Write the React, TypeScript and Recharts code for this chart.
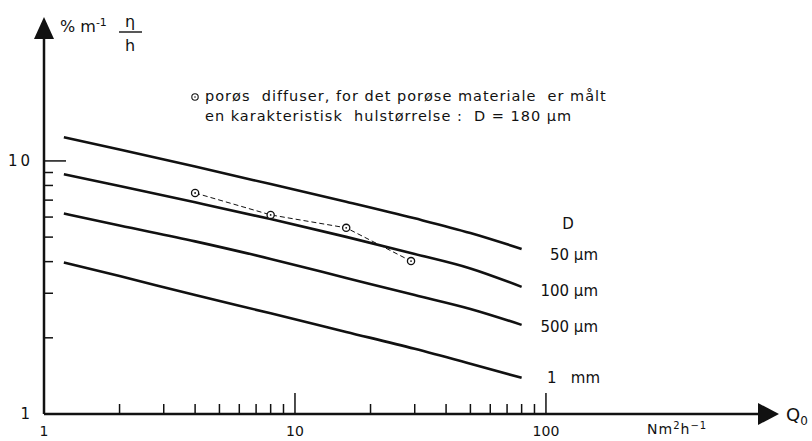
import { LineChart, Line, XAxis, YAxis } from "recharts";

// Q0 (Nm2/h) sample points shared by the four D curves
const flowPoints = [1.2, 2, 4, 8, 16, 30, 50, 80];
const curve50um = [12.4, 11.1, 9.5, 8.1, 6.9, 5.93, 5.19, 4.49];
const curve100um = [8.85, 7.96, 6.86, 5.89, 5.01, 4.29, 3.76, 3.18];
const curve500um = [6.2, 5.56, 4.81, 4.1, 3.45, 2.95, 2.6, 2.25];
const curve1mm = [3.97, 3.51, 2.95, 2.5, 2.11, 1.81, 1.58, 1.39];
const curveLabels = ["50 µm", "100 µm", "500 µm", "1   mm"];

// porous diffuser measurements
const measuredFlow = [4, 8, 16, 29];
const measuredEta = [7.47, 6.12, 5.44, 4.02];

const xTicks = [1, 2, 3, 4, 5, 6, 7, 8, 9, 10, 20, 30, 40, 50, 60, 70, 80, 90, 100];
const xLabels = [1, 10, 100];
const yTicks = [1, 2, 3, 4, 5, 6, 7, 8, 9, 10];
const yLabels = [1, 10];

const ink = "#111";
const font = "'DejaVu Sans', sans-serif";

const curveData = flowPoints.map((q, i) => ({
  q,
  d50: curve50um[i],
  d100: curve100um[i],
  d500: curve500um[i],
  d1mm: curve1mm[i],
}));

const measuredData = measuredFlow.map((q, i) => ({ q, eta: measuredEta[i] }));

const XTick = (props: any) => {
  const { x, y, payload } = props;
  const v = payload.value;
  const major = v === 10 || v === 100;
  return (
    <g>
      {v !== 1 && (
        <line x1={x} x2={x} y1={y} y2={y - (major ? 21 : 10)} stroke={ink} strokeWidth={1.5} />
      )}
      {xLabels.includes(v) && (
        <text x={x} y={y + 22} textAnchor="middle" fontSize={14} fill={ink} fontFamily={font}>
          {v}
        </text>
      )}
    </g>
  );
};

const YTick = (props: any) => {
  const { x, y, payload } = props;
  const v = payload.value;
  return (
    <g>
      {v !== 1 && (
        <line x1={x} x2={x + (v === 10 ? 22 : 9)} y1={y} y2={y} stroke={ink} strokeWidth={1.5} />
      )}
      {yLabels.includes(v) && (
        <text x={x - 11} y={y + 5} textAnchor="end" fontSize={15} fill={ink} fontFamily={font} letterSpacing={3}>
          {v}
        </text>
      )}
    </g>
  );
};

const MeasuredDot = (props: any) => {
  const { cx, cy, index } = props;
  return (
    <g key={index}>
      <circle cx={cx} cy={cy} r={3.6} fill="#fff" stroke={ink} strokeWidth={1.3} />
      <circle cx={cx} cy={cy} r={0.9} fill={ink} />
    </g>
  );
};

export default function App() {
  const curveKeys = ["d50", "d100", "d500", "d1mm"];
  const labelY = [255, 291, 327, 378];
  const txt = { fill: ink, fontFamily: font, style: { whiteSpace: "pre" as const } };
  return (
    <div style={{ position: "absolute", left: 0, top: 0, width: 812, height: 441, background: "#fff" }}>
      <LineChart
        width={812}
        height={441}
        data={curveData}
        margin={{ top: 38, right: 52, bottom: 26, left: 43 }}
      >
        <XAxis
          dataKey="q"
          type="number"
          scale="log"
          domain={[1, 712.6]}
          allowDataOverflow
          ticks={xTicks}
          interval={0}
          height={1}
          tickSize={0}
          tickMargin={0}
          tick={<XTick />}
          axisLine={{ stroke: ink, strokeWidth: 2.5 }}
          tickLine={false}
        />
        <YAxis
          type="number"
          scale="log"
          domain={[1, 30.6]}
          allowDataOverflow
          ticks={yTicks}
          interval={0}
          width={1}
          tickSize={0}
          tickMargin={0}
          tick={<YTick />}
          axisLine={{ stroke: ink, strokeWidth: 2.5 }}
          tickLine={false}
        />
        {curveKeys.map((k) => (
          <Line
            key={k}
            dataKey={k}
            type="monotone"
            stroke={ink}
            strokeWidth={2.6}
            dot={false}
            activeDot={false}
            isAnimationActive={false}
          />
        ))}
        <Line
          data={measuredData}
          dataKey="eta"
          type="linear"
          stroke={ink}
          strokeWidth={1}
          strokeDasharray="5 3"
          dot={<MeasuredDot />}
          activeDot={false}
          isAnimationActive={false}
        />
        {/* arrowheads */}
        <polygon points="44,17 34,39 54,39" fill={ink} />
        <polygon points="779,414 758,403 758,425" fill={ink} />
        {/* y axis title */}
        <text x={60} y={32} fontSize={16} {...txt}>
          % m<tspan dy={-6} fontSize={11}>-1</tspan>
        </text>
        <text x={130} y={27} fontSize={16} {...txt} textAnchor="middle">η</text>
        <line x1={119} x2={142} y1={32} y2={32} stroke={ink} strokeWidth={1.4} />
        <text x={130} y={51} fontSize={16} {...txt} textAnchor="middle">h</text>
        {/* x axis title */}
        <text x={786} y={421} fontSize={18} {...txt}>
          Q<tspan dy={4} fontSize={12}>0</tspan>
        </text>
        <text x={647} y={434} fontSize={14} {...txt} letterSpacing={1}>
          Nm<tspan dy={-5} fontSize={10}>2</tspan>
          <tspan dy={5}>h</tspan>
          <tspan dy={-5} fontSize={10}>−1</tspan>
        </text>
        {/* annotation */}
        <circle cx={195} cy={97} r={3.2} fill="none" stroke={ink} strokeWidth={1.1} />
        <circle cx={195} cy={97} r={0.8} fill={ink} />
        <text x={205} y={101} fontSize={14.5} letterSpacing={1} {...txt}>
          porøs  diffuser, for det porøse materiale  er målt
        </text>
        <text x={205} y={121} fontSize={14.5} letterSpacing={1} {...txt}>
          en karakteristisk  hulstørrelse :  D = 180 µm
        </text>
        {/* curve labels */}
        <text x={568} y={229} fontSize={15} {...txt} textAnchor="middle">D</text>
        {curveLabels.map((t, i) => (
          <text
            key={t}
            x={i === 3 ? 547 : 598}
            y={labelY[i] + 5}
            fontSize={15}
            {...txt}
            textAnchor={i === 3 ? "start" : "end"}
          >
            {t}
          </text>
        ))}
      </LineChart>
    </div>
  );
}
